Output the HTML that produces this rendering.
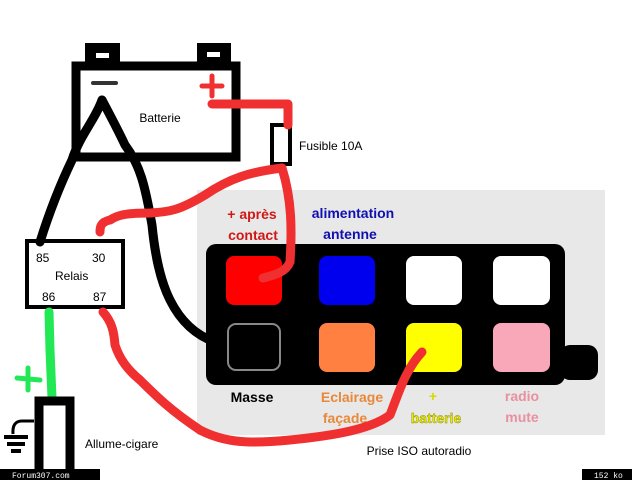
<!DOCTYPE html>
<html><head><style>
body{margin:0;width:632px;height:480px;overflow:hidden;background:#fff;font-family:"Liberation Sans",sans-serif}
svg{position:absolute;left:0;top:0}
</style></head><body>
<svg width="632" height="480" viewBox="0 0 632 480" xmlns="http://www.w3.org/2000/svg" font-family="Liberation Sans, sans-serif">
<rect x="197" y="190" width="408" height="245" fill="#e8e8e8"/>
<rect x="206" y="244" width="359" height="141" rx="10" fill="#000"/>
<rect x="560" y="345" width="38" height="35" rx="10" fill="#000"/>
<g stroke-width="2">
<rect x="226" y="256" width="56" height="49" rx="8" fill="#ff0000"/>
<rect x="319" y="256" width="56" height="49" rx="8" fill="#0000ee"/>
<rect x="406" y="256" width="56" height="49" rx="8" fill="#fff"/>
<rect x="493" y="256" width="57" height="49" rx="8" fill="#fff"/>
<rect x="228" y="324" width="52" height="46" rx="8" fill="#000" stroke="#888"/>
<rect x="319" y="323" width="56" height="49" rx="8" fill="#ff8040"/>
<rect x="406" y="323" width="56" height="49" rx="8" fill="#ffff00"/>
<rect x="493" y="323" width="57" height="49" rx="8" fill="#f8a8b8"/>
</g>
<g font-weight="bold" font-size="14" text-anchor="middle">
<text x="252" y="219" fill="#d01818">+ après</text>
<text x="253" y="240" fill="#d01818">contact</text>
<text x="353" y="218" fill="#1010b0">alimentation</text>
<text x="350" y="239" fill="#1010b0">antenne</text>
<text x="252" y="402" fill="#000">Masse</text>
<text x="352" y="402" fill="#e88838">Eclairage</text>
<text x="345" y="423" fill="#e88838">façade</text>
<text x="433" y="401" fill="#d8d800">+</text>
<text x="436" y="423" fill="#e8e800" stroke="#888800" stroke-width="0.4">batterie</text>
<text x="522" y="401" fill="#e890a0">radio</text>
<text x="522" y="422" fill="#e890a0">mute</text>
</g>
<text x="419" y="455" font-size="12" text-anchor="middle">Prise ISO autoradio</text>
<!-- battery -->
<rect x="85" y="43" width="35" height="22" fill="#000"/>
<rect x="96" y="53" width="13" height="5" fill="#fff"/>
<rect x="197" y="43" width="34" height="22" fill="#000"/>
<rect x="207" y="52" width="13" height="5" fill="#fff"/>
<rect x="76" y="66" width="160" height="91" fill="#fff" stroke="#000" stroke-width="9"/>
<line x1="93" y1="83" x2="116" y2="83" stroke="#333" stroke-width="4" stroke-linecap="round"/>
<g stroke="#f03030" stroke-width="5" stroke-linecap="round"><line x1="202" y1="86" x2="222" y2="86"/><line x1="212" y1="76" x2="212" y2="96"/></g>
<text x="160" y="122" font-size="12" text-anchor="middle">Batterie</text>
<rect x="272" y="125" width="18" height="39" fill="#fff" stroke="#000" stroke-width="4"/>
<text x="299" y="150" font-size="12">Fusible 10A</text>
<!-- relay -->
<rect x="27" y="241" width="96" height="66" fill="#fff" stroke="#000" stroke-width="4"/>
<g font-size="12"><text x="36" y="262">85</text><text x="92" y="262">30</text><text x="55" y="280">Relais</text><text x="42" y="301">86</text><text x="93" y="301">87</text></g>
<!-- wires -->
<g fill="none" stroke-linecap="round" stroke-linejoin="round" stroke-width="9">
<path d="M102 100 C95 120 80 135 72 160 C60 185 50 210 40 242" stroke="#000"/>
<path d="M102 100 C110 115 118 130 125 145 C140 165 145 185 152 225 C155 255 160 280 170 300 C180 320 195 335 215 342" stroke="#000"/>
<path d="M212 104 L288 104 L288 125" stroke="#f03030"/>
<path d="M282 168 C292 200 292 230 290 262 C286 272 275 275 263 278" stroke="#f03030"/>
<path d="M282 168 C250 172 230 178 205 195 C180 210 170 212 150 213 C125 213 118 215 110 220 C100 222 100 228 100 232" stroke="#f03030"/>
<path d="M103 312 C112 322 114 332 115 345 C120 360 128 370 140 380 C155 395 170 410 200 430 C225 443 250 444 290 440 C330 436 370 430 390 415 C398 395 405 370 422 352" stroke="#f03030"/>
<path d="M49 312 L50 350 L52 398" stroke="#22e855"/>
</g>
<g stroke="#22e855" stroke-width="5" stroke-linecap="round"><line x1="17" y1="378" x2="40" y2="380"/><line x1="28" y1="368" x2="28" y2="390"/></g>
<!-- allume cigare -->
<rect x="39" y="401" width="31" height="80" fill="#fff" stroke="#000" stroke-width="9"/>
<g stroke="#000" stroke-width="3" fill="none"><path d="M34 421 L22 421 Q12 421 13 434"/><line x1="4" y1="437" x2="28" y2="437" stroke-width="4"/><line x1="7" y1="444" x2="25" y2="444" stroke-width="4"/><line x1="11" y1="451" x2="21" y2="451" stroke-width="4"/></g>
<text x="85" y="448" font-size="12">Allume-cigare</text>
<rect x="0" y="469" width="100" height="11" fill="#000"/>
<text x="12" y="478" font-size="8" fill="#fff" font-family="Liberation Mono, monospace">Forum307.com</text>
<rect x="582" y="469" width="50" height="11" fill="#000"/>
<text x="594" y="478" font-size="8" fill="#fff" font-family="Liberation Mono, monospace">152 ko</text>
</svg>
</body></html>
